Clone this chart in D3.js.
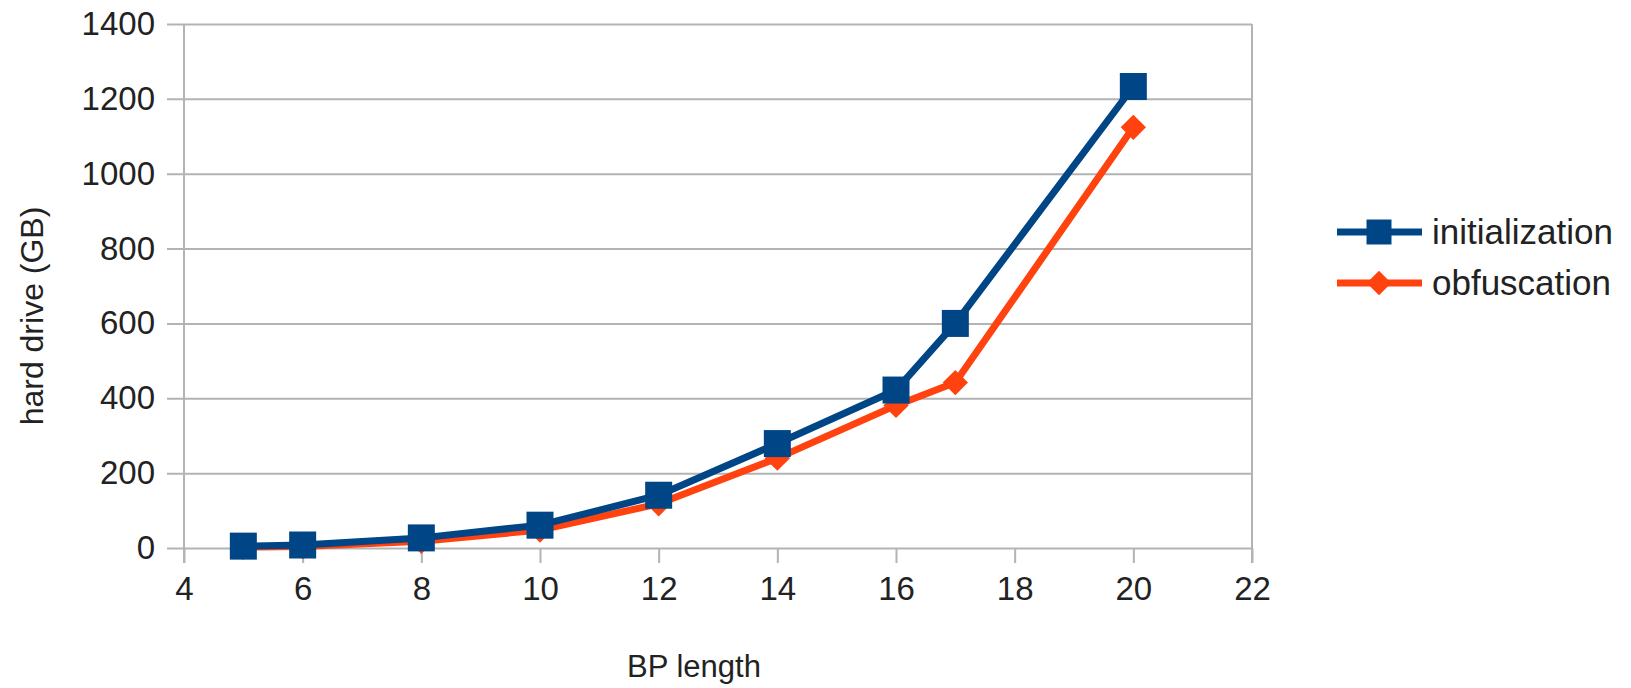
<!DOCTYPE html>
<html>
<head>
<meta charset="utf-8">
<script src="https://cdn.jsdelivr.net/npm/d3@7"></script>
<style>
  body { margin: 0; background: #fff; }
  text { font-family: "Liberation Sans", Arial, sans-serif; fill: #222; }
</style>
</head>
<body>
<svg id="chart" width="1631" height="688"></svg>
<script>
// data
var bpLength = [5, 6, 8, 10, 12, 14, 16, 17, 20];
var initialization = [5, 8, 27, 61, 141, 279, 422, 600, 1233];
var obfuscation = [2, 4, 18, 48, 118, 240, 381, 442, 1124];
var xTicks = [4, 6, 8, 10, 12, 14, 16, 18, 20, 22];
var yTicks = [0, 200, 400, 600, 800, 1000, 1200, 1400];
var seriesNames = ["initialization", "obfuscation"];

var svg = d3.select("#chart");
var plotL = 184, plotR = 1252, plotT = 24, plotB = 548;

var x = d3.scaleLinear().domain([4, 22]).range([plotL, plotR]);
var y = d3.scaleLinear().domain([0, 1400]).range([plotB, plotT]);
var color = d3.scaleOrdinal().domain(seriesNames).range(["#004586", "#ff420e"]);

// horizontal grid, sticking out left of the axis like ticks
svg.append("g")
    .attr("transform", "translate(" + plotR + ",0)")
    .call(d3.axisLeft(y).tickValues(yTicks).tickSize(plotR - 167).tickFormat(""))
    .call(g => g.select(".domain").remove())
    .selectAll("line").attr("stroke", "#b3b3b3").attr("stroke-width", 2);

// y labels
svg.append("g")
    .attr("transform", "translate(" + plotL + ",0)")
    .call(d3.axisLeft(y).tickValues(yTicks).tickSize(0).tickPadding(29).tickFormat(d3.format("d")))
    .call(g => g.select(".domain").remove())
    .selectAll("text").attr("font-size", 33).attr("fill", "#222");

// x axis with ticks going down
var xa = svg.append("g")
    .attr("transform", "translate(0," + plotB + ")")
    .call(d3.axisBottom(x).tickValues(xTicks).tickSize(15).tickPadding(14));
xa.select(".domain").remove();
xa.selectAll("line").attr("stroke", "#b3b3b3").attr("stroke-width", 2);
xa.selectAll("text").attr("font-size", 33).attr("fill", "#222");

// vertical frame lines
svg.selectAll(".frame").data([4, 22]).enter().append("line")
    .attr("x1", d => x(d)).attr("x2", d => x(d))
    .attr("y1", plotT).attr("y2", plotB + 15)
    .attr("stroke", "#b3b3b3").attr("stroke-width", 2);

// diamond = square turned 45deg
var series = [
    { name: "initialization", values: initialization, size: 729, rot: 0 },
    { name: "obfuscation", values: obfuscation, size: 320, rot: 45 }
];

var line = d3.line()
    .x(d => x(d[0]))
    .y(d => y(d[1]));

// draw orange first so blue sits on top like in the original
series.slice().reverse().forEach(s => {
    var pts = bpLength.map((b, i) => [b, s.values[i]]);
    svg.append("path")
        .datum(pts)
        .attr("fill", "none")
        .attr("stroke", color(s.name))
        .attr("stroke-width", 7)
        .attr("stroke-linejoin", "round")
        .attr("d", line);
    svg.selectAll(null).data(pts).enter().append("path")
        .attr("d", d3.symbol().type(d3.symbolSquare).size(s.size))
        .attr("transform", d => "translate(" + x(d[0]) + "," + y(d[1]) + ") rotate(" + s.rot + ")")
        .attr("fill", color(s.name));
});

// axis titles
svg.append("text")
    .attr("transform", "translate(43,316) rotate(-90)")
    .attr("text-anchor", "middle")
    .attr("font-size", 32)
    .text("hard drive (GB)");

svg.append("text")
    .attr("x", 694).attr("y", 677)
    .attr("text-anchor", "middle")
    .attr("font-size", 31)
    .text("BP length");

// legend
var legend = svg.selectAll(".legend").data(series).enter().append("g")
    .attr("transform", (d, i) => "translate(1337," + (232 + i * 51) + ")");
legend.append("line")
    .attr("x1", 0).attr("x2", 85)
    .attr("stroke", d => color(d.name))
    .attr("stroke-width", 7);
legend.append("path")
    .attr("d", d => d3.symbol().type(d3.symbolSquare).size(d.rot ? 300 : 625)())
    .attr("transform", d => "translate(42,0) rotate(" + d.rot + ")")
    .attr("fill", d => color(d.name));
legend.append("text")
    .attr("x", 95).attr("dy", "0.33em")
    .attr("font-size", 35)
    .text(d => d.name);
</script>
</body>
</html>
